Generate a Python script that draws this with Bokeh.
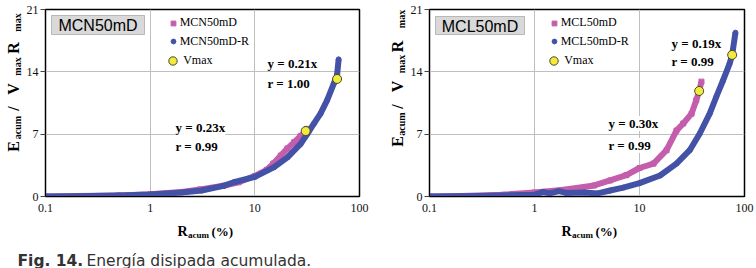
import math
from bokeh.plotting import figure
from bokeh.models import (Label, Legend, LegendItem, FixedTicker, BoxAnnotation,
                          CustomJSTickFormatter, Range1d)
from bokeh.layouts import row, column
from bokeh.embed import file_html
from bokeh.resources import INLINE

# ---------------- data ----------------
x_ticks = [0.1, 1, 10, 100]
y_ticks = [0, 7, 14, 21]

# Panel 1: MCN50mD
mcn_x = [0.1, 0.2, 0.5, 1, 2, 3, 5, 7, 10, 13, 15, 17.7, 20.5, 23.8, 27.4, 30.6, 31.5]
mcn_y = [0.0, 0.05, 0.12, 0.25, 0.5, 0.8, 1.2, 1.6, 2.3, 3.0, 3.7, 4.6, 5.4, 6.1, 6.8, 7.3, 7.6]
mcnr_x = [0.1, 0.2, 0.5, 1, 2, 3.1, 5, 6.3, 10, 15.3, 20.5, 27.4, 31.8, 36.8, 42.4, 49, 56.9, 61, 63.2]
mcnr_y = [0.0, 0.03, 0.1, 0.22, 0.45, 0.67, 1.2, 1.6, 2.2, 3.3, 4.4, 5.9, 7.05, 8.2, 9.3, 10.8, 12.7, 13.6, 15.4]
mcn_vmax_x = [30.6, 61.1]
mcn_vmax_y = [7.35, 13.2]

# Panel 2: MCL50mD
mcl_x = [0.1, 0.2, 0.5, 1, 1.9, 3.7, 5.25, 7.5, 10, 13.6, 18.1, 22.5, 26.1, 31.3, 34.7, 37, 38.9]
mcl_y = [0.0, 0.05, 0.2, 0.45, 0.75, 1.24, 1.8, 2.4, 3.2, 3.7, 5.2, 7.4, 8.2, 9.3, 10.8, 11.85, 12.9]
mclr_x = [0.1, 0.3, 1, 1.2, 1.4, 1.7, 2, 3, 4, 5.25, 7, 10, 15.7, 22.5, 30.1, 37.4, 46.6, 53.9, 62.3, 72, 76.3, 82]
mclr_y = [0.0, 0.05, 0.2, 0.5, 0.35, 0.6, 0.4, 0.45, 0.35, 0.67, 1.0, 1.5, 2.36, 3.7, 5.2, 7.05, 9.3, 11.2, 13.0, 14.9, 15.9, 18.4]
mcl_vmax_x = [37, 76.3]
mcl_vmax_y = [11.85, 15.9]

PINK = "#C45EAC"
BLUE = "#4352A6"
YEL = "#F2EA3C"
SERIF = "Liberation Serif"
SANS = "Liberation Sans"

ROW_H = 220      # height of the row holding the two panels
FB = 196         # frame bottom (page px)


def make_panel(width, mb_left, mb_right, sx, sy, rx, ry, vx, vy):
    p = figure(width=width, height=ROW_H, x_axis_type="log",
               x_range=Range1d(0.1, 100), y_range=Range1d(0, 21),
               output_backend="svg", toolbar_location=None,
               min_border_left=mb_left, min_border_right=mb_right,
               min_border_top=9, min_border_bottom=ROW_H - FB)
    p.outline_line_color = "black"
    p.outline_line_width = 1.5
    p.background_fill_color = "white"
    p.border_fill_color = "white"

    p.xaxis.ticker = FixedTicker(ticks=x_ticks)
    p.xgrid.ticker = FixedTicker(ticks=x_ticks)
    p.yaxis.ticker = FixedTicker(ticks=y_ticks)
    p.ygrid.ticker = FixedTicker(ticks=y_ticks)
    p.xaxis.formatter = CustomJSTickFormatter(
        code="return tick < 1 ? tick.toFixed(1) : tick.toFixed(0);")
    for ax in (p.xaxis[0], p.yaxis[0]):
        ax.major_label_text_font = SERIF
        ax.major_label_text_font_size = "12px"
        ax.major_label_text_color = "#111111"
        ax.axis_line_color = "black"
        ax.major_tick_line_color = "#444444"
        ax.minor_tick_line_color = None
        ax.major_tick_in = 0
    p.xaxis.major_tick_out = 0
    p.xaxis.major_label_standoff = 7
    p.yaxis.major_tick_out = 5
    p.yaxis.major_label_standoff = 2
    p.grid.grid_line_color = "#BFBFBF"
    p.grid.grid_line_width = 1

    p.line(sx, sy, line_color=PINK, line_width=6, line_join="round")
    rs = p.scatter(sx, sy, marker="square", size=5, fill_color=PINK, line_color=PINK)
    p.line(rx, ry, line_color=BLUE, line_width=6, line_join="round")
    rr = p.scatter(rx, ry, marker="circle", size=5, fill_color=BLUE, line_color=BLUE)
    rv = p.scatter(vx, vy, marker="circle", size=9, fill_color=YEL, line_color="#4a4a2a",
                   line_width=1)
    return p, rs, rr, rv


def text_fig(width, height):
    f = figure(width=width, height=height, x_axis_type=None, y_axis_type=None,
               x_range=Range1d(0, 1), y_range=Range1d(0, 1),
               output_backend="svg", toolbar_location=None,
               min_border=0, min_border_left=0, min_border_right=0,
               min_border_top=0, min_border_bottom=0)
    f.outline_line_color = None
    f.grid.visible = False
    f.background_fill_color = "white"
    f.border_fill_color = "white"
    return f


def lab(p, left, bottom, x, y, text, size, bold=False, font=SERIF, align="left",
        baseline="middle", angle=0.0, color="black", **kw):
    """x, y in page pixels; left/bottom = page position of the frame's left/bottom edge."""
    p.add_layout(Label(x=x - left, y=bottom - y, x_units="screen", y_units="screen",
                       text=text, text_font=font, text_font_size=f"{size}px",
                       text_font_style="bold" if bold else "normal",
                       text_align=align, text_baseline=baseline, angle=angle,
                       text_color=color, **kw))


def name_box(p, fl, x0, x1, y0, y1, text):
    p.add_layout(BoxAnnotation(left=x0 - fl, right=x1 - fl, top=FB - y0, bottom=FB - y1,
                               left_units="screen", right_units="screen",
                               top_units="screen", bottom_units="screen",
                               fill_color="#D9D9D9", fill_alpha=1.0,
                               line_color="#404040", line_width=1))
    lab(p, fl, FB, (x0 + x1) / 2, (y0 + y1) / 2 + 0.5, text, 16, font=SANS, align="center")


def legends(p, fl, cx, names, renderers):
    ys = [23, 41.7]
    for name, r, yc in zip(names[:2], renderers[:2], ys):
        leg = Legend(items=[LegendItem(label=name, renderers=[r])],
                     location=(cx - 6 - fl, FB - yc - 7),
                     glyph_width=12, glyph_height=14, label_height=14,
                     label_standoff=1, padding=0, margin=0, spacing=0,
                     border_line_color=None, background_fill_alpha=0,
                     label_text_font=SERIF, label_text_font_size="12px",
                     label_text_color="black")
        p.add_layout(leg)
    leg = Legend(items=[LegendItem(label=names[2], renderers=[renderers[2]])],
                 location=(cx - 10.5 - fl, FB - 60 - 10.5),
                 glyph_width=21, glyph_height=21, label_height=21,
                 label_standoff=-3, padding=0, margin=0, spacing=0,
                 border_line_color=None, background_fill_alpha=0,
                 label_text_font=SERIF, label_text_font_size="12px",
                 label_text_color="black")
    p.add_layout(leg)


def ytitle(f, left, cx_main, cx_sub, centers):
    pieces = [("E", False), ("acum", True), ("/", False), ("V", False),
              ("max", True), ("R", False), ("max", True)]
    for (txt, sub), yc in zip(pieces, centers):
        lab(f, left, ROW_H, cx_sub if sub else cx_main, yc, txt, 10 if sub else 16,
            bold=True, align="center", baseline="middle", angle=math.pi / 2)


def xtitle(f, rx):
    lab(f, 0, 268, rx, 231, "R", 14, bold=True, baseline="alphabetic")
    lab(f, 0, 268, rx + 10.5, 234, "acum", 9, bold=True, baseline="alphabetic")
    lab(f, 0, 268, rx + 34, 231, "(%)", 13, bold=True, baseline="alphabetic")


# ---------------- panel 1 ----------------
FL1 = 43
p1, r1s, r1r, r1v = make_panel(357, 20, 21, mcn_x, mcn_y, mcnr_x, mcnr_y,
                               mcn_vmax_x, mcn_vmax_y)
legends(p1, FL1, 170.7, ["MCN50mD", "MCN50mD-R", "Vmax"], [r1s, r1r, r1v])
name_box(p1, FL1, 49, 142, 15, 34, "MCN50mD")
lab(p1, FL1, FB, 265, 63, "y = 0.21x", 13, bold=True, background_fill_color="white")
lab(p1, FL1, FB, 265, 83, "r = 1.00", 13, bold=True, background_fill_color="white")
lab(p1, FL1, FB, 173, 127, "y = 0.23x", 13, bold=True, background_fill_color="white")
lab(p1, FL1, FB, 173, 146, "r = 0.99", 13, bold=True, background_fill_color="white")

# ---------------- panel 2 ----------------
FL2 = 427
p2, r2s, r2r, r2v = make_panel(349, 20, 12, mcl_x, mcl_y, mclr_x, mclr_y,
                               mcl_vmax_x, mcl_vmax_y)
legends(p2, FL2, 551.7, ["MCL50mD", "MCL50mD-R", "Vmax"], [r2s, r2r, r2v])
name_box(p2, FL2, 433, 522, 16, 34, "MCL50mD")
lab(p2, FL2, FB, 669, 43, "y = 0.19x", 13, bold=True, background_fill_color="white")
lab(p2, FL2, FB, 669, 61, "r = 0.99", 13, bold=True, background_fill_color="white")
lab(p2, FL2, FB, 606, 123, "y = 0.30x", 13, bold=True, background_fill_color="white")
lab(p2, FL2, FB, 606, 145, "r = 0.99", 13, bold=True, background_fill_color="white")

# ---------------- text strips (axis titles, caption) ----------------
tL = text_fig(23, ROW_H)          # page x 0..23
ytitle(tL, 0, 12.6, 17.1, [170, 151, 132, 112.5, 90, 71.5, 46])
tM = text_fig(27, ROW_H)          # page x 380..407
ytitle(tM, 380, 396.6, 401.1, [165, 147.5, 130, 110, 87.5, 70, 42.5])
tB = text_fig(756, 268 - ROW_H)   # page y 220..268
xtitle(tB, 177)
xtitle(tB, 561)
lab(tB, 0, 268, 17, 260, "Fig. 14.", 15.5, bold=True, font="DejaVu Sans",
    baseline="alphabetic", color="#333333")
lab(tB, 0, 268, 86, 260, "Energía disipada acumulada.", 15.5, font="DejaVu Sans",
    baseline="alphabetic", color="#333333")

layout = column(row(tL, p1, tM, p2), tB)
open("out.html", "w").write(file_html(layout, INLINE))
